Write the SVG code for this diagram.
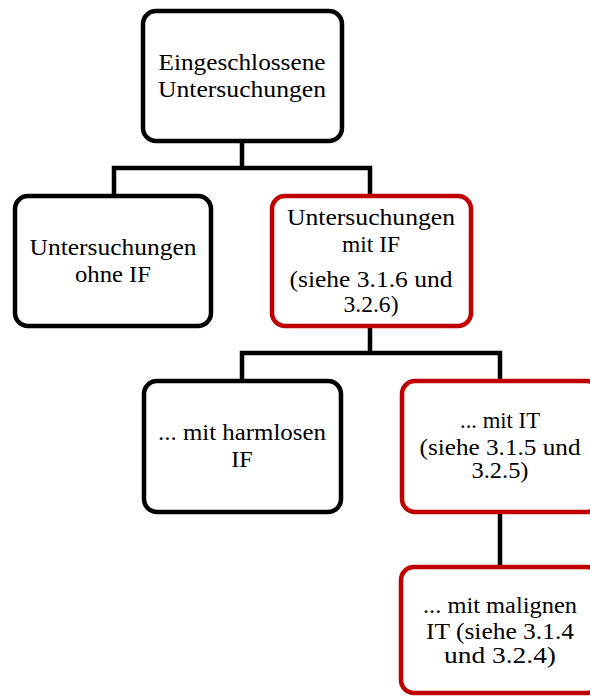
<svg xmlns="http://www.w3.org/2000/svg" width="590" height="697" viewBox="0 0 590 697">
<style>
.box{fill:#fff;stroke:#000;stroke-width:4.5}
.red{stroke:#C00000}
.t{font-family:"Liberation Serif","DejaVu Serif",serif;font-size:24px;fill:#000;text-anchor:middle}
.c{fill:none;stroke:#000;stroke-width:4.5;stroke-linejoin:miter}
</style>
<rect width="590" height="697" fill="#fff"/>
<g id="connectors">
<path class="c" d="M242 141V168M114 196V168H370V196"/>
<path class="c" d="M370 326V353M242 381V353H500V381"/>
<path class="c" d="M500 512V567"/>
</g>
<g id="n1">
<rect class="box" x="143" y="11" width="199" height="130" rx="13"/>
<text class="t" x="242" y="70" textLength="167" lengthAdjust="spacingAndGlyphs">Eingeschlossene</text>
<text class="t" x="242" y="97" textLength="168" lengthAdjust="spacingAndGlyphs">Untersuchungen</text>
</g>
<g id="n2">
<rect class="box" x="15" y="196" width="196" height="130" rx="13"/>
<text class="t" x="113" y="255" textLength="167" lengthAdjust="spacingAndGlyphs">Untersuchungen</text>
<text class="t" x="113" y="282" textLength="76" lengthAdjust="spacingAndGlyphs">ohne IF</text>
</g>
<g id="n3">
<rect class="box red" x="272" y="196" width="199" height="130" rx="13"/>
<text class="t" x="371" y="225" textLength="168" lengthAdjust="spacingAndGlyphs">Untersuchungen</text>
<text class="t" x="371" y="252" textLength="58" lengthAdjust="spacingAndGlyphs">mit IF</text>
<text class="t" x="371" y="287" textLength="163" lengthAdjust="spacingAndGlyphs">(siehe 3.1.6 und</text>
<text class="t" x="371" y="312" textLength="55" lengthAdjust="spacingAndGlyphs">3.2.6)</text>
</g>
<g id="n4">
<rect class="box" x="144" y="381" width="197" height="131" rx="13"/>
<text class="t" x="242" y="440" textLength="168" lengthAdjust="spacingAndGlyphs">... mit harmlosen</text>
<text class="t" x="242" y="467">IF</text>
</g>
<g id="n5">
<rect class="box red" x="402" y="381" width="198" height="131" rx="13"/>
<text class="t" x="500" y="428" textLength="80" lengthAdjust="spacingAndGlyphs">... mit IT</text>
<text class="t" x="500" y="455" textLength="161" lengthAdjust="spacingAndGlyphs">(siehe 3.1.5 und</text>
<text class="t" x="500" y="478" textLength="57" lengthAdjust="spacingAndGlyphs">3.2.5)</text>
</g>
<g id="n6">
<rect class="box red" x="401" y="567" width="199" height="126" rx="13"/>
<text class="t" x="500" y="613" textLength="154" lengthAdjust="spacingAndGlyphs">... mit malignen</text>
<text class="t" x="500" y="639" textLength="148" lengthAdjust="spacingAndGlyphs">IT (siehe 3.1.4</text>
<text class="t" x="500" y="663" textLength="112" lengthAdjust="spacingAndGlyphs">und 3.2.4)</text>
</g>
</svg>
